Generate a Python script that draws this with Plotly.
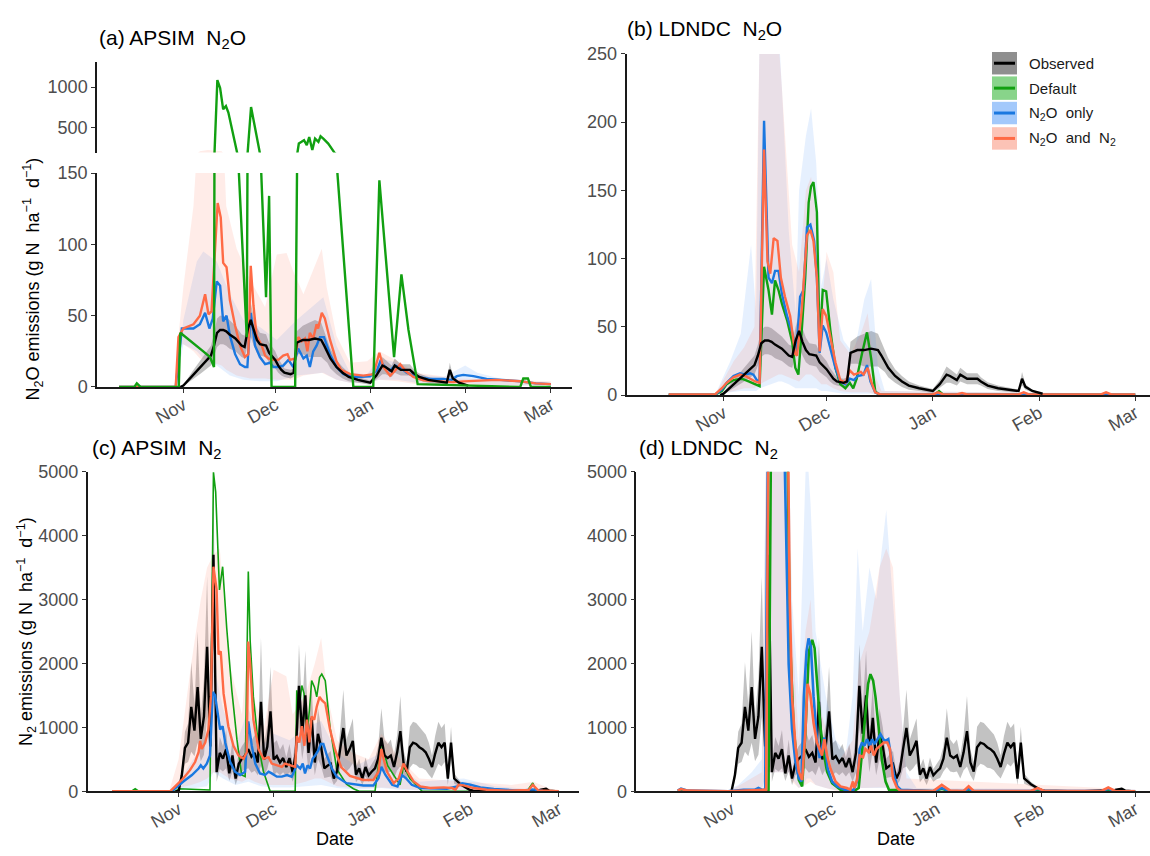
import numpy as np
import pandas as pd
import plotly.graph_objects as go

BASE = pd.Timestamp("2016-11-01")
month_ticks = ["2016-11-01", "2016-12-01", "2017-01-01", "2017-02-01", "2017-03-01"]
month_labels = ["Nov", "Dec", "Jan", "Feb", "Mar"]

# ---------------- Observed N2O (panels a, b) : day offset from 1 Nov ----------------
obs_n2o_days = [-1, 0, 3, 6, 9, 10, 11, 12, 13, 14, 15, 17, 19, 20, 21, 22, 23, 24, 25, 27,
                28, 30, 31, 32, 33, 35, 36, 37, 39, 41, 43, 45, 46, 47, 48, 50, 52, 54, 57, 61,
                63, 65, 66, 68, 69, 71, 74, 75, 77, 80, 84, 86, 87, 88, 90, 92, 93]
obs_n2o_vals = [0, 1, 8, 15, 22, 29, 38, 40, 40, 39, 37, 34, 29, 28, 40, 47, 39, 33, 30, 29,
                24, 19, 15, 12, 10, 9, 10, 31, 33, 33, 34, 33, 29, 25, 20, 14, 10, 7, 5, 3,
                8, 15, 14, 11, 15, 12, 12, 10, 7, 5, 3.5, 3, 12, 6, 3, 1.5, 1]
obs_n2o_sd = [0, 0.5, 3, 5, 7, 8, 10, 10, 10, 10, 10, 9, 8, 8, 10, 12, 10, 9, 8, 8,
              7, 6, 5, 4, 3, 3, 3, 8, 10, 12, 13, 12, 10, 8, 7, 5, 4, 3, 2, 1.5,
              3, 6, 5, 4, 5, 4, 4, 3, 2.5, 2, 1.5, 1, 5, 2, 1, 0.5, 0.3]

# ---------------- Observed N2 (panels c, d) ----------------
obs_n2_days = list(range(-1, 94)) + [95, 100, 105, 110, 114, 116, 117, 119]
obs_n2_vals = [0, 0, 250, 680, 760, 1320, 950, 1630, 820, 1170, 2260, 700, 3700, 300, 600, 510,
               660, 280, 560, 200, 430, 510, 560, 660, 540, 600, 450, 1400, 500, 700, 1250, 500,
               550, 450, 520, 380, 520, 300, 600, 1650, 900, 1500, 600, 1150, 450, 900, 690,
               360, 400, 430, 200, 310, 660, 990, 560, 660, 790, 260, 360, 200, 380, 250, 310,
               360, 510, 840, 560, 520, 560, 380, 610, 940, 450, 310, 690, 760, 740, 690, 660,
               610, 510, 380, 590, 760, 690, 760, 200, 760, 200, 150, 110, 80, 50, 20, 10,
               5, 0, 0, 10, 20, 40, 10, 0]
obs_n2_sd = [0, 0, 100, 250, 300, 700, 400, 870, 350, 600, 1100, 300, 1200, 150, 250, 200,
             300, 120, 250, 100, 180, 200, 220, 300, 250, 280, 200, 1000, 250, 350, 700, 250,
             250, 200, 220, 150, 220, 150, 300, 650, 400, 700, 300, 500, 200, 400, 300,
             150, 180, 200, 100, 150, 300, 600, 250, 300, 350, 120, 150, 100, 150, 100, 120,
             150, 200, 460, 250, 220, 250, 180, 280, 550, 200, 150, 320, 330, 330, 320, 300,
             280, 250, 180, 280, 330, 300, 300, 100, 250, 80, 60, 40, 30, 20, 10, 5,
             3, 0, 0, 5, 10, 20, 5, 0]

# ---------------- (a) APSIM N2O ----------------
a_both_days = [-21, -2.5, -1.6, 0, 3.3, 5.4, 7.1, 8.2, 9.2, 10.3, 11.2, 12.2, 13, 14.1, 15.2, 16.9,
               18.5, 20.1, 21.2, 22, 22.9, 23.9, 25.6, 26.7, 27.7, 29.4, 31, 32.6, 34, 34.8,
               36.5, 37.5, 38.6, 39.7, 40.5, 41.3, 42.4, 43.5, 44, 45.2, 46.2, 47.9, 50, 51.5,
               54.5, 58.8, 62.1, 64, 65.3, 67.5, 69.1, 70.8, 72.4, 75.1, 78.4, 83.8, 88.2, 91.4,
               96.9, 102.3, 110, 115, 120]
a_both_vals = [0, 0, 35, 41, 44, 50, 65, 51, 53, 93, 129, 119, 87, 84, 61, 43,
               29, 21, 23, 85, 57, 36, 29, 22, 20, 19, 19, 22, 23, 19,
               20, 35, 32, 34, 25, 38, 34, 44, 41, 52, 48, 33, 18, 12,
               9, 8, 9, 24, 14, 8, 11.5, 16, 11.5, 7, 4.6, 3.9, 3.4, 3.9,
               4.6, 5, 4, 2.5, 2]
a_only_days = [-21, -2.5, -0.5, 3.3, 5.4, 7.1, 8.5, 9.6, 10.9, 12, 13, 14.1, 15.2, 16.9, 18.5, 20.1,
               20.9, 22, 23.4, 25, 26.7, 28.3, 29.4, 31, 32.6, 34.3, 35.9, 37.5, 39.2, 40.3,
               41.3, 42.4, 43.5, 44.6, 45.9, 47.9, 50, 52.3, 56.7, 61, 63.2, 64.3, 65.9, 67.5,
               69.1, 70.8, 72.9, 76.2, 80.5, 84.9, 87.6, 89.3, 91.4, 94.7, 99, 102.3, 110, 115, 120]
a_only_vals = [0, 0, 41, 41, 44, 52, 41, 48, 74, 71, 46, 50, 36, 23, 16, 14,
               14, 52, 29, 21, 16, 17, 14, 14, 15, 19, 14, 27, 20, 22,
               14, 25, 29, 35, 35, 23, 14, 9, 7, 7.5, 11.5, 18, 14, 11.5,
               15, 14, 10, 7, 5.7, 5.7, 5, 7.6, 8.5, 7.6, 5.7, 5.3, 4, 2.5, 2]
a_def_days = [-21, -16, -15.2, -14, -1.5, -1, 6.5, 8.7, 10, 11.1, 12, 13, 13.9, 14.7, 16.3, 17.6,
              20.7, 22.1, 25, 27, 28, 28.8, 36.5, 37.7, 38.6, 39.4, 40.3, 41.1, 42.1, 43,
              44.1, 44.8, 45.7, 47.3, 49.5, 50.3, 55.5, 62, 64, 68.8, 71.2, 73.5, 76.5, 110,
              111, 112.5, 113.5, 120]
a_def_vals = [0, 0, 2.5, 0, 0, 38, 25, 21, 14, 1089, 988, 723, 764, 683, 418, 174,
              35, 752, 174, 63, 134, 0, 0, 296, 317, 337, 276, 378, 215, 357,
              317, 386, 357, 296, 174, 150, 0, 0, 145, 21, 79, 40, 2, 0,
              6, 6, 0, 0]
a_only_band_days = [-2.5, 0, 4.4, 6.5, 10.9, 15.2, 19.6, 25, 30.5, 37, 45.7, 50, 54.4, 60, 64, 70,
                    76, 85, 92, 96, 105, 120]
a_only_band_hi = [0, 47, 88, 95, 88, 65, 47, 42, 33, 47, 63, 29, 10, 9, 20, 17, 9, 7, 15, 10, 5, 3]
a_only_band_lo = [0, 30, 25, 20, 15, 8, 5, 4, 4, 8, 10, 5, 3, 3, 5, 5, 3, 2, 3, 2, 1, 1]
a_both_band_days = [-2.5, -1.6, 0, 3.3, 5.4, 8, 12.5, 14, 17.4, 21.8, 26.7, 30.5, 33.7, 35.9, 39.2,
                    45.2, 46.8, 50, 54.4, 60, 64, 70, 76, 90, 120]
a_both_band_hi = [0, 36, 70, 127, 200, 215, 200, 127, 97, 75, 56, 93, 94, 81, 65, 97, 70, 36, 17,
                  18, 25, 18, 10, 6, 4]
a_both_band_lo = [0, 30, 30, 25, 20, 18, 15, 12, 8, 6, 6, 5, 5, 5, 8, 10, 8, 5, 3, 3, 5, 4, 2, 1, 1]

# ---------------- (b) LDNDC N2O ----------------
b_both_days = [-16, -2.5, -0.5, 0.9, 2.9, 4.8, 6.3, 7.7, 9.2, 10.5, 11.8, 12.8, 13.6, 14.6, 15.7,
               16.7, 17.9, 19.4, 20.9, 21.4, 22.8, 24.3, 25.3, 26.2, 27.2, 28, 28.9, 29.9, 31.1,
               32.6, 34, 35.5, 36.8, 38, 39.1, 40, 40.8, 42, 43, 44.2, 45.7, 61, 62.5, 64, 68,
               69.5, 71, 86, 87.5, 89, 110, 111.5, 113, 120]
b_both_vals = [0.5, 0.5, 5, 9, 13, 15, 14, 12, 10, 9, 180, 98, 89, 115, 113,
               86, 72, 58, 30, 29, 63, 117, 121, 113, 86, 32, 63, 58, 43,
               24, 11, 9, 18, 15, 16, 17, 15, 20, 10, 2, 0.5, 0.5, 2, 0.5, 0.5,
               1.5, 0.5, 0.5, 2, 0.5, 0.5, 2, 0.5, 0.5]
b_only_days = [-16, -2.5, -0.5, 0.9, 2.9, 4.8, 6.3, 7.7, 8.7, 9.7, 10.5, 11.8, 13.1, 14.1, 15, 16,
               17, 18.5, 20, 21.2, 22.3, 23.3, 24.3, 25.3, 26.4, 27.2, 28, 28.9, 29.9, 31.1,
               32.6, 34, 35.5, 36.8, 38, 39.1, 40.8, 41.8, 42.8, 44.2, 45.7, 120]
b_only_vals = [0.3, 0.3, 4, 9, 14, 16, 15, 16, 15, 11, 10, 201, 86, 82, 91, 91,
               74, 58, 46, 31, 72, 77, 123, 125, 113, 86, 31, 51, 46, 34,
               20, 10, 8, 12, 11, 14, 15, 22, 10, 2, 0.3, 0.3]
b_def_days = [-16, -2.5, -0.5, 0.9, 2.9, 5.3, 7.3, 9.2, 10.5, 11.8, 13.1, 14.1, 15, 16, 17, 18.5,
              20, 20.9, 21.8, 22.8, 23.8, 24.8, 25.5, 26.2, 27.2, 28, 28.9, 29.9, 31.1, 32.6,
              34, 35.5, 36.8, 37.8, 38.8, 40.4, 41.8, 43, 44.2, 45.2, 61.5, 62.8, 64, 120]
b_def_vals = [0.3, 0.3, 3, 8, 11, 12, 10, 8, 6.5, 94, 77, 59, 84, 77, 67, 55,
              39, 20, 15, 48, 86, 141, 153, 156, 134, 36, 77, 76, 48, 20,
              8, 5, 9, 5, 12, 31, 46, 27, 3, 0.3, 0.3, 3, 0.3, 0.3]
b_only_band_days = [-2.5, 2, 5, 8, 9.5, 10.5, 16, 17, 19, 21, 22, 24, 25.5, 27, 28.5, 30, 32, 35,
                    38, 41, 43, 45, 47, 120]
b_only_band_hi = [0, 25, 45, 110, 60, 270, 270, 225, 120, 60, 150, 190, 210, 170, 80, 100, 70, 40,
                  30, 70, 85, 20, 3, 1]
b_only_band_lo = [0, 2, 3, 3, 3, 5, 10, 10, 8, 5, 5, 5, 5, 5, 3, 3, 2, 1, 1, 1, 1, 0, 0, 0]
b_both_band_days = [-2.5, 3, 6, 9, 10.5, 16, 17, 20, 22, 24, 25.5, 27, 28.5, 30, 32, 34, 37, 40,
                    42, 44, 46, 120]
b_both_band_hi = [0, 25, 35, 50, 260, 260, 225, 110, 90, 150, 160, 130, 60, 105, 90, 40, 30, 45,
                  60, 15, 3, 1]
b_both_band_lo = [0, 3, 5, 5, 8, 15, 15, 12, 10, 15, 15, 12, 8, 8, 5, 3, 2, 2, 2, 1, 0, 0]

# ---------------- (c) APSIM N2 ----------------
c_def_days = [-21, -15, -13.7, -12.5, -1, 0, 9.9, 11, 11.7, 12.9, 13.9, 15.2, 16.8, 18.4, 19.9, 21,
              22, 22.6, 23.6, 25.2, 26.8, 27.8, 28.9, 36.8, 37.3, 38, 38.9, 39.6, 40.5, 41.3,
              42, 42.9, 43.6, 44.5, 45.2, 46.3, 47.8, 49.9, 53, 55.2, 57, 62, 64, 66, 69.9,
              71, 73, 76.9, 110, 111.8, 113, 120]
c_def_vals = [0, 0, 40, 0, 0, 40, 20, 4990, 4685, 3150, 3513, 2546, 1579, 815, 255, 230,
              3437, 2342, 1477, 713, 306, 153, 0, 0, 1579, 1273, 1655, 1528, 866, 1273,
              1731, 1629, 1477, 1782, 1833, 1731, 1000, 350, 110, 40, 0, 0, 760, 400, 100,
              400, 200, 0, 0, 130, 0, 0]
c_both_days = [-21, -2.7, -0.6, 1.5, 3.6, 5.2, 6.3, 6.8, 7.3, 8.4, 9.4, 10.2, 11, 11.5, 12, 12.6,
               13.3, 14.2, 15.7, 17.3, 18.9, 20.5, 21.5, 22, 22.6, 23.6, 25.2, 26.8, 28.4, 29.4,
               31, 32.6, 33.6, 35.2, 36.8, 37.3, 38.1, 38.9, 39.7, 40.5, 41.3, 42, 42.8, 43.6,
               44.5, 45.2, 46.3, 47.8, 49.4, 51.3, 54.1, 58.3, 61.5, 63.1, 64, 64.7, 65.8, 67.9,
               69.5, 71, 72.3, 74.2, 76.3, 79.4, 83.6, 86.3, 87.4, 88.4, 90, 93.1, 97.3, 103.6,
               107.8, 110.5, 111.8, 113.5, 120]
c_both_vals = [0, 0, 102, 204, 331, 458, 611, 789, 662, 764, 967, 1477, 3513, 3361, 3157, 2139,
               2190, 1528, 1018, 713, 560, 509, 611, 2342, 1986, 1120, 662, 509, 535, 433,
               407, 382, 433, 407, 382, 866, 764, 1018, 713, 1120, 764, 1171, 1120, 1324,
               1477, 1426, 1375, 967, 650, 380, 240, 178, 178, 306, 662, 509, 306, 127,
               204, 433, 306, 153, 76, 51, 61, 51, 25, 102, 92, 51, 25, 10,
               10, 20, 100, 15, 0]
c_only_days = [-21, -2.2, 1.5, 4.2, 6.3, 7, 7.8, 8.9, 9.9, 10.8, 11.5, 12.4, 13.1, 13.9, 14.7, 16.3,
               17.8, 19.4, 21, 22, 23.1, 24.2, 25.7, 27.3, 28.4, 29.4, 31, 32.6, 34.2, 35.7,
               37.3, 38.4, 39.2, 39.9, 40.7, 41.5, 42.3, 43.1, 44.1, 44.9, 45.7, 46.8, 48.4, 49.9,
               53, 58.3, 61.5, 63.1, 64, 65.3, 67.4, 69.1, 70.5, 71.8, 73.6, 76.3, 80.5, 84.7,
               87.9, 89.5, 92.1, 95.3, 99.5, 103.6, 107.8, 111.8, 115, 120]
c_only_vals = [0, 0, 153, 255, 356, 407, 356, 433, 560, 1553, 1502, 1171, 967, 1018, 764, 458,
               306, 255, 306, 1095, 713, 433, 280, 255, 306, 280, 229, 229, 255, 229,
               407, 356, 433, 280, 407, 356, 509, 560, 640, 740, 740, 560, 356, 229,
               127, 92, 92, 204, 382, 255, 102, 76, 255, 204, 102, 51, 41, 41,
               76, 127, 102, 61, 36, 20, 10, 30, 5, 0]
c_both_band_days = [-3, 0, 4, 7, 9, 11, 13, 16, 20, 22, 24, 27, 30, 34, 36, 40, 43, 45, 47, 50,
                    55, 60, 64, 70, 76, 90, 105, 112, 118]
c_both_band_hi = [0, 500, 2000, 3000, 3500, 3700, 3800, 2000, 1200, 2400, 1400, 1000, 1900, 1800,
                  1200, 1500, 2000, 2400, 1500, 800, 600, 500, 900, 500, 200, 150, 100, 150, 30]
c_both_band_lo = [0, 50, 100, 150, 200, 300, 300, 200, 150, 200, 150, 100, 100, 100, 100, 150,
                  200, 200, 150, 80, 50, 50, 60, 40, 20, 10, 5, 10, 0]
c_only_band_days = [-2, 2, 6, 9, 11, 14, 18, 22, 26, 30, 35, 40, 45, 50, 56, 64, 70, 76, 90, 100, 119]
c_only_band_hi = [0, 300, 600, 900, 2000, 1300, 700, 1300, 700, 900, 800, 1000, 1100, 600, 400,
                  600, 350, 150, 200, 80, 10]
c_only_band_lo = [0, 30, 60, 80, 300, 200, 100, 150, 80, 60, 60, 80, 100, 50, 30, 50, 20, 10, 10, 5, 0]

# ---------------- (d) LDNDC N2 ----------------
d_only_days = [-16, -15, -13, -1, 3.6, 7, 8, 9, 10, 10.9, 15.5, 16.3, 17, 18, 19, 20, 20.8, 21.5,
               22.3, 22.9, 23.6, 24.4, 25.4, 26.2, 27.6, 28.6, 29.9, 31.4, 33.4, 34.8, 36.3, 37.3,
               38.1, 38.8, 39.5, 40.3, 41.1, 41.8, 42.5, 43.3, 44.3, 45.1, 45.8, 46.6, 47.3, 48.3,
               49.3, 50.3, 60, 62.5, 65, 69, 70.5, 72, 89, 91, 93, 110, 112, 114, 120]
d_only_vals = [10, 40, 10, 0, 25, 25, 51, 25, 25, 6000, 6000, 3513, 1986, 967, 458, 204, 153, 1477,
               2190, 2393, 2266, 1477, 815, 520, 840, 356, 153, 76, 25, 0, 25, 153,
               662, 764, 713, 815, 713, 815, 738, 815, 891, 815, 789, 815, 611, 255,
               76, 25, 5, 50, 5, 5, 40, 5, 5, 40, 5, 5, 40, 5, 0]
d_def_days = [-16, 11, 11.8, 16.5, 17.3, 18.5, 20, 21, 22, 23, 24, 24.7, 25.4, 26.4, 27.4, 28.4, 29.9,
              32.4, 36.3, 37.8, 38.8, 39.8, 40.6, 41.3, 42.1, 42.8, 43.8, 44.8, 45.8, 46.8, 60,
              62.5, 65, 69, 70.5, 72, 120]
d_def_vals = [0, 0, 6000, 6000, 2495, 967, 178, 76, 967, 2190, 2368, 2240, 1731, 1018, 611, 306, 127,
              25, 0, 51, 611, 1171, 1680, 1833, 1731, 1477, 967, 458, 153, 25, 0,
              40, 0, 0, 25, 0, 0]
d_both_days = [-16, -15, -13, -1, 10.3, 11, 16.7, 17.3, 18, 19, 20, 21, 22, 22.6, 23.4, 24.4, 25.4,
               26.4, 26.9, 27.6, 28.4, 29.4, 30.9, 32.4, 34.3, 35.3, 36.1, 36.5, 37.3, 38.1, 39.1,
               39.8, 40.8, 41.5, 42.3, 43.1, 44.3, 45.3, 46.3, 47.1, 48, 49.2, 50.2, 60, 62.5, 65,
               69, 70.5, 72, 89, 91, 93, 110, 112, 114, 120]
d_both_vals = [10, 35, 10, 0, 25, 6000, 6000, 3004, 1477, 713, 306, 178, 967, 1680, 1528, 1069, 764,
               611, 560, 815, 560, 356, 153, 76, 51, 25, 153, 51, 178, 560, 535,
               662, 611, 713, 560, 662, 713, 764, 764, 662, 204, 51, 10, 5, 100, 10,
               5, 80, 5, 5, 50, 5, 5, 60, 5, 0]
d_only_band_days = [-16, -1, 2, 6, 9, 10.3, 17, 18, 20, 21.5, 22.3, 23.5, 25, 28, 31, 34, 36, 37.5,
                    39, 41, 43, 46, 48, 50, 52, 55, 120]
d_only_band_hi = [20, 20, 100, 300, 500, 5500, 5500, 3000, 1500, 4000, 5500, 4500, 2500, 1500, 800,
                  600, 1500, 3800, 2500, 3500, 3000, 4400, 3000, 1500, 300, 50, 30]
d_only_band_lo = [0, 0, 5, 10, 10, 300, 300, 200, 50, 100, 200, 200, 100, 50, 20, 5, 10, 50, 50, 50,
                  50, 50, 30, 10, 0, 0, 0]
d_both_band_days = [-16, 0, 9, 10.3, 17, 18, 20, 22, 23.5, 25, 28, 31, 36, 38, 41, 44, 46, 48, 50,
                    52, 120]
d_both_band_hi = [20, 20, 300, 5500, 5500, 2500, 800, 2500, 3000, 1500, 1000, 400, 800, 2000, 2500,
                  3500, 3800, 3500, 1500, 200, 30]
d_both_band_lo = [0, 0, 10, 300, 300, 150, 50, 100, 150, 100, 50, 10, 10, 50, 60, 60, 60, 40, 10, 0, 0]

legend_labels = ["Observed", "Default", "N<sub>2</sub>O\u00a0\u00a0only",
                 "N<sub>2</sub>O\u00a0\u00a0and\u00a0\u00a0N<sub>2</sub>"]

# ---------------- styles ----------------
C_OBS, C_DEF, C_ONLY, C_BOTH = "#000000", "#11a011", "#1a78e0", "#ff6a45"
F_OBS = "rgba(110,110,110,0.42)"
F_ONLY = "rgba(60,140,250,0.13)"
F_BOTH = "rgba(255,110,80,0.13)"
FONT = "Liberation Sans, Arial, sans-serif"


def dates(days):
    return [BASE + pd.Timedelta(days=float(d)) for d in days]


def dstr(d):
    return (BASE + pd.Timedelta(days=float(d))).strftime("%Y-%m-%d %H:%M")


fig = go.Figure()


def band(days, lo, hi, color, xa, ya):
    days = list(days)
    fig.add_trace(go.Scatter(x=dates(days + days[::-1]), y=list(hi) + list(lo)[::-1],
                             fill="toself", fillcolor=color, line=dict(width=0), mode="lines",
                             hoverinfo="skip", showlegend=False, xaxis=xa, yaxis=ya))


def line(days, vals, color, width, xa, ya):
    fig.add_trace(go.Scatter(x=dates(days), y=vals, mode="lines",
                             line=dict(color=color, width=width), showlegend=False,
                             xaxis=xa, yaxis=ya))


def obs_band(days, vals, sd, xa, ya):
    v = np.array(vals, float)
    s = np.array(sd, float)
    band(days, np.clip(v - s, 0, None), v + s, F_OBS, xa, ya)


# panel a (bottom y, top y5)
for ya in ["y", "y5"]:
    obs_band(obs_n2o_days, obs_n2o_vals, obs_n2o_sd, "x", ya)
    band(a_only_band_days, a_only_band_lo, a_only_band_hi, F_ONLY, "x", ya)
    band(a_both_band_days, a_both_band_lo, a_both_band_hi, F_BOTH, "x", ya)
    line(a_only_days, a_only_vals, C_ONLY, 2.4, "x", ya)
    line(a_both_days, a_both_vals, C_BOTH, 2.4, "x", ya)
    line(obs_n2o_days, obs_n2o_vals, C_OBS, 2.4, "x", ya)
    line(a_def_days, a_def_vals, C_DEF, 2.4, "x", ya)

# panel b
obs_band(obs_n2o_days, obs_n2o_vals, obs_n2o_sd, "x2", "y2")
band(b_only_band_days, b_only_band_lo, b_only_band_hi, F_ONLY, "x2", "y2")
band(b_both_band_days, b_both_band_lo, b_both_band_hi, F_BOTH, "x2", "y2")
line(b_def_days, b_def_vals, C_DEF, 2.4, "x2", "y2")
line(b_only_days, b_only_vals, C_ONLY, 2.4, "x2", "y2")
line(b_both_days, b_both_vals, C_BOTH, 2.4, "x2", "y2")
line(obs_n2o_days, obs_n2o_vals, C_OBS, 2.4, "x2", "y2")

# panel c
obs_band(obs_n2_days, obs_n2_vals, obs_n2_sd, "x3", "y3")
band(c_only_band_days, c_only_band_lo, c_only_band_hi, F_ONLY, "x3", "y3")
band(c_both_band_days, c_both_band_lo, c_both_band_hi, F_BOTH, "x3", "y3")
line(c_def_days, c_def_vals, C_DEF, 1.6, "x3", "y3")
line(obs_n2_days, obs_n2_vals, C_OBS, 2.4, "x3", "y3")
line(c_only_days, c_only_vals, C_ONLY, 2.4, "x3", "y3")
line(c_both_days, c_both_vals, C_BOTH, 2.4, "x3", "y3")

# panel d
obs_band(obs_n2_days, obs_n2_vals, obs_n2_sd, "x4", "y4")
band(d_only_band_days, d_only_band_lo, d_only_band_hi, F_ONLY, "x4", "y4")
band(d_both_band_days, d_both_band_lo, d_both_band_hi, F_BOTH, "x4", "y4")
line(obs_n2_days, obs_n2_vals, C_OBS, 2.4, "x4", "y4")
line(d_def_days, d_def_vals, C_DEF, 2.6, "x4", "y4")
line(d_only_days, d_only_vals, C_ONLY, 2.6, "x4", "y4")
line(d_both_days, d_both_vals, C_BOTH, 2.6, "x4", "y4")

W, H = 1150, 856


def px(v):
    return v / W


def py(v):
    return 1 - v / H


def xax(dom, rng, anchor):
    return dict(domain=dom, range=[dstr(rng[0]), dstr(rng[1])], type="date", anchor=anchor,
                showline=True, linecolor="#1a1a1a", linewidth=1.5, ticks="outside", ticklen=4,
                tickwidth=1.2, tickcolor="#333333", tickvals=month_ticks, ticktext=month_labels,
                tickangle=-30, ticklabelstandoff=-5,
                tickfont=dict(size=18, color="#4d4d4d", family=FONT),
                showgrid=False, zeroline=False)


def yax(dom, rng, tv, anchor):
    return dict(domain=dom, range=rng, anchor=anchor, showline=True, linecolor="#1a1a1a",
                linewidth=1.5, ticks="outside", ticklen=4, tickwidth=1.2, tickcolor="#333333",
                tickvals=tv, tickfont=dict(size=18, color="#4d4d4d", family=FONT),
                showgrid=False, zeroline=False)


layout = dict(
    width=W, height=H, autosize=False, margin=dict(l=0, r=0, t=0, b=0),
    plot_bgcolor="white", paper_bgcolor="white", showlegend=False,
    font=dict(family=FONT, color="#000000"),
    xaxis=xax([px(97), px(572)], [-28.2, 126.9], "y"),
    yaxis=yax([py(386), py(167)], [0, 150], [0, 50, 100, 150], "x"),
    yaxis5=yax([py(146), py(53)], [183, 1317], [500, 1000], "x"),
    xaxis2=xax([px(626.5), 1.0], [-28.3, 124.3], "y2"),
    yaxis2=yax([py(394.3), py(45)], [0, 250], [0, 50, 100, 150, 200, 250], "x2"),
    xaxis3=xax([px(87.7), px(579)], [-28.7, 126.4], "y3"),
    yaxis3=yax([py(800), py(472.7)], [0, 5000], [0, 1000, 2000, 3000, 4000, 5000], "x3"),
    xaxis4=xax([px(636.3), 1.0], [-28.3, 124.4], "y4"),
    yaxis4=yax([py(800), py(472.7)], [0, 5000], [0, 1000, 2000, 3000, 4000, 5000], "x4"),
)
fig.update_layout(**layout)

ann = []
titles = [("(a) APSIM\u00a0\u00a0N<sub>2</sub>O", 97, 30),
          ("(b) LDNDC\u00a0\u00a0N<sub>2</sub>O", 625, 20),
          ("(c) APSIM\u00a0\u00a0N<sub>2</sub>", 90, 450),
          ("(d) LDNDC\u00a0\u00a0N<sub>2</sub>", 637, 450)]
for t, x, y in titles:
    ann.append(dict(text=t, x=px(x), y=py(y), xref="paper", yref="paper", xanchor="left",
                    yanchor="middle", showarrow=False, font=dict(size=21, color="#000", family=FONT)))
ann.append(dict(text="N<sub>2</sub>O emissions (g N\u00a0\u00a0ha<sup>\u22121</sup>\u00a0\u00a0d<sup>\u22121</sup>)",
                x=px(33), y=py(276), xref="paper", yref="paper", textangle=-90, showarrow=False,
                xanchor="center", yanchor="middle", font=dict(size=18, color="#000", family=FONT)))
ann.append(dict(text="N<sub>2</sub> emissions (g N\u00a0\u00a0ha<sup>\u22121</sup>\u00a0\u00a0d<sup>\u22121</sup>)",
                x=px(26), y=py(637), xref="paper", yref="paper", textangle=-90, showarrow=False,
                xanchor="center", yanchor="middle", font=dict(size=18, color="#000", family=FONT)))
for x in [335, 896]:
    ann.append(dict(text="Date", x=px(x), y=py(849), xref="paper", yref="paper", showarrow=False,
                    xanchor="center", yanchor="middle", font=dict(size=18, color="#000", family=FONT)))

# custom legend
rows = [(43, 66), (68, 92), (94, 117), (120, 143)]
sw_fill = ["#8f8f8f", "#88d48a", "#a3c9fb", "#fcc3b6"]
sw_line = [C_OBS, C_DEF, C_ONLY, C_BOTH]
shapes = []
for (y0, y1), f, lc, lab in zip(rows, sw_fill, sw_line, legend_labels):
    shapes.append(dict(type="rect", xref="paper", yref="paper", x0=px(992), x1=px(1017),
                       y0=py(y1), y1=py(y0), fillcolor=f, line=dict(width=0), layer="above"))
    yc = (y0 + y1) / 2
    shapes.append(dict(type="line", xref="paper", yref="paper", x0=px(994), x1=px(1015),
                       y0=py(yc), y1=py(yc), line=dict(color=lc, width=3), layer="above"))
    ann.append(dict(text=lab, x=px(1027), y=py(yc), xref="paper", yref="paper", xanchor="left",
                    yanchor="middle", showarrow=False, font=dict(size=15, color="#1a1a1a", family=FONT)))

fig.update_layout(annotations=ann, shapes=shapes)
fig.write_html("out.html")
